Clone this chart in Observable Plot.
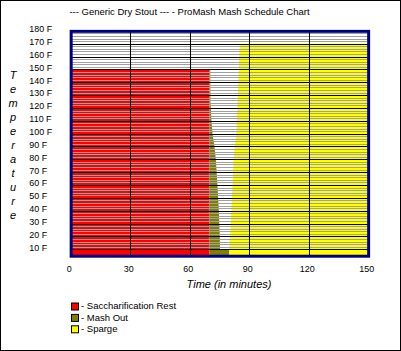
<!DOCTYPE html>
<html>
<head>
<meta charset="utf-8">
<script src="https://cdn.jsdelivr.net/npm/d3@7"></script>
<script src="https://cdn.jsdelivr.net/npm/@observablehq/plot@0.6"></script>
<style>
  html, body { margin: 0; padding: 0; background: #fff; }
  #wrap { position: relative; width: 401px; height: 351px; box-sizing: border-box; border: 1px solid #000; overflow: hidden; font-family: "Liberation Sans", Arial, sans-serif; }
  #wrap svg { position: absolute; left: 0; top: 0; }
</style>
</head>
<body>
<div id="wrap"></div>
<script>
// ---- data ----
const titleText = "--- Generic Dry Stout --- - ProMash Mash Schedule Chart";
const xTitle = "Time (in minutes)";
const yTitle = "Temperature";
const yTicks = [10, 20, 30, 40, 50, 60, 70, 80, 90, 100, 110, 120, 130, 140, 150, 160, 170, 180];
const xTicks = [0, 30, 60, 90, 120, 150];
const phases = ["Saccharification Rest", "Mash Out", "Sparge"];
const phaseColors = ["#ff0000", "#808000", "#ffff00"];

// Saccharification Rest: 0 → 70 min, up to 150 F
const restStart = 0;
const restEnd = 70;
const restTop = 150;

// Mash Out: from end of rest to a boundary that narrows with temperature
const mashOutTemp = [5, 10, 10, 20, 40, 60, 80, 90, 100, 110, 125, 150];
const mashOutEnd  = [80, 80, 75.3, 75.2, 74.7, 74, 73.2, 72.5, 71.5, 71, 70.5, 70.4];

// Sparge: from a varying start time to 150 min, up to 170 F
const spargeTemp  = [5, 10, 10, 20, 40, 60, 80, 90, 100, 110, 130, 150, 170];
const spargeStart = [80, 80, 80, 80.4, 81, 81.6, 82.2, 82.8, 83.5, 83.8, 84.3, 84.8, 85.3];
const spargeEnd = 150;

const yMin = 5, yMax = 180, xMin = 0, xMax = 150;

// ---- build ----
const rest = [{x1: restStart, x2: restEnd, y1: yMin, y2: restTop}];
const mashOut = mashOutTemp.map((t, i) => ({t, x1: restEnd, x2: mashOutEnd[i]}));
const sparge = spargeTemp.map((t, i) => ({t, x1: spargeStart[i], x2: spargeEnd}));
const hatch = d3.range(12, 180, 2).filter(d => d % 10 !== 0);
const hGrid = yTicks.filter(d => d < yMax);
const vGrid = xTicks.filter(d => d > xMin && d < xMax);

const chart = Plot.plot({
  width: 401, height: 351,
  marginLeft: 70, marginRight: 32, marginTop: 30, marginBottom: 95,
  x: {domain: [xMin, xMax]},
  y: {domain: [yMin, yMax]},
  style: {fontFamily: "'Liberation Sans', Arial, sans-serif", fontSize: "9px", color: "#000", background: "transparent", overflow: "visible"},
  marks: [
    Plot.rect(rest, {x1: "x1", x2: "x2", y1: "y1", y2: "y2", fill: phaseColors[0]}),
    Plot.areaX(mashOut, {y: "t", x1: "x1", x2: "x2", fill: phaseColors[1]}),
    Plot.areaX(sparge, {y: "t", x1: "x1", x2: "x2", fill: phaseColors[2]}),
    Plot.ruleY(hatch, {stroke: "#a0a0a0", strokeWidth: 1, shapeRendering: "crispEdges"}),
    Plot.ruleY(hGrid, {stroke: "#000", strokeWidth: 1, shapeRendering: "crispEdges"}),
    Plot.ruleX(vGrid, {stroke: "#000", strokeWidth: 1, shapeRendering: "crispEdges"}),
    Plot.frame({stroke: "#000080", strokeWidth: 3}),
    Plot.axisY(yTicks, {tickSize: 0, tickPadding: 42, textAnchor: "start", tickFormat: d => d + " F", dy: -2, label: null}),
    Plot.axisX(xTicks, {tickSize: 0, tickPadding: 9, dx: -2, label: null})
  ]
});
document.getElementById("wrap").appendChild(chart);

// ---- overlay texts (title, axis titles, legend) ----
const ns = "http://www.w3.org/2000/svg";
const ov = d3.select("#wrap").append("svg")
  .attr("width", 401).attr("height", 351)
  .style("font-family", "'Liberation Sans', Arial, sans-serif");

ov.append("text").attr("x", 188.5).attr("y", 13.5).attr("text-anchor", "middle")
  .attr("font-size", 9.5).attr("fill", "#000").text(titleText);

ov.append("text").attr("x", 228).attr("y", 286.5).attr("text-anchor", "middle")
  .attr("font-size", 11).attr("font-style", "italic").attr("fill", "#000").text(xTitle);

const yt = ov.append("text").attr("font-size", 11).attr("font-style", "italic").attr("fill", "#000").attr("text-anchor", "middle");
yTitle.split("").forEach((ch, i) => {
  yt.append("tspan").attr("x", 12).attr("y", 78 + i * 14).text(ch);
});

phases.forEach((p, i) => {
  const y0 = 301.5 + i * 11.4;
  ov.append("rect").attr("x", 70.5).attr("y", y0 + 0.5).attr("width", 7).attr("height", 7)
    .attr("fill", phaseColors[i]).attr("stroke", "#000").attr("stroke-width", 1);
  ov.append("text").attr("x", 80).attr("y", y0 + 6.6).attr("font-size", 9.5).attr("fill", "#000").text("- " + p);
});
</script>
</body>
</html>
